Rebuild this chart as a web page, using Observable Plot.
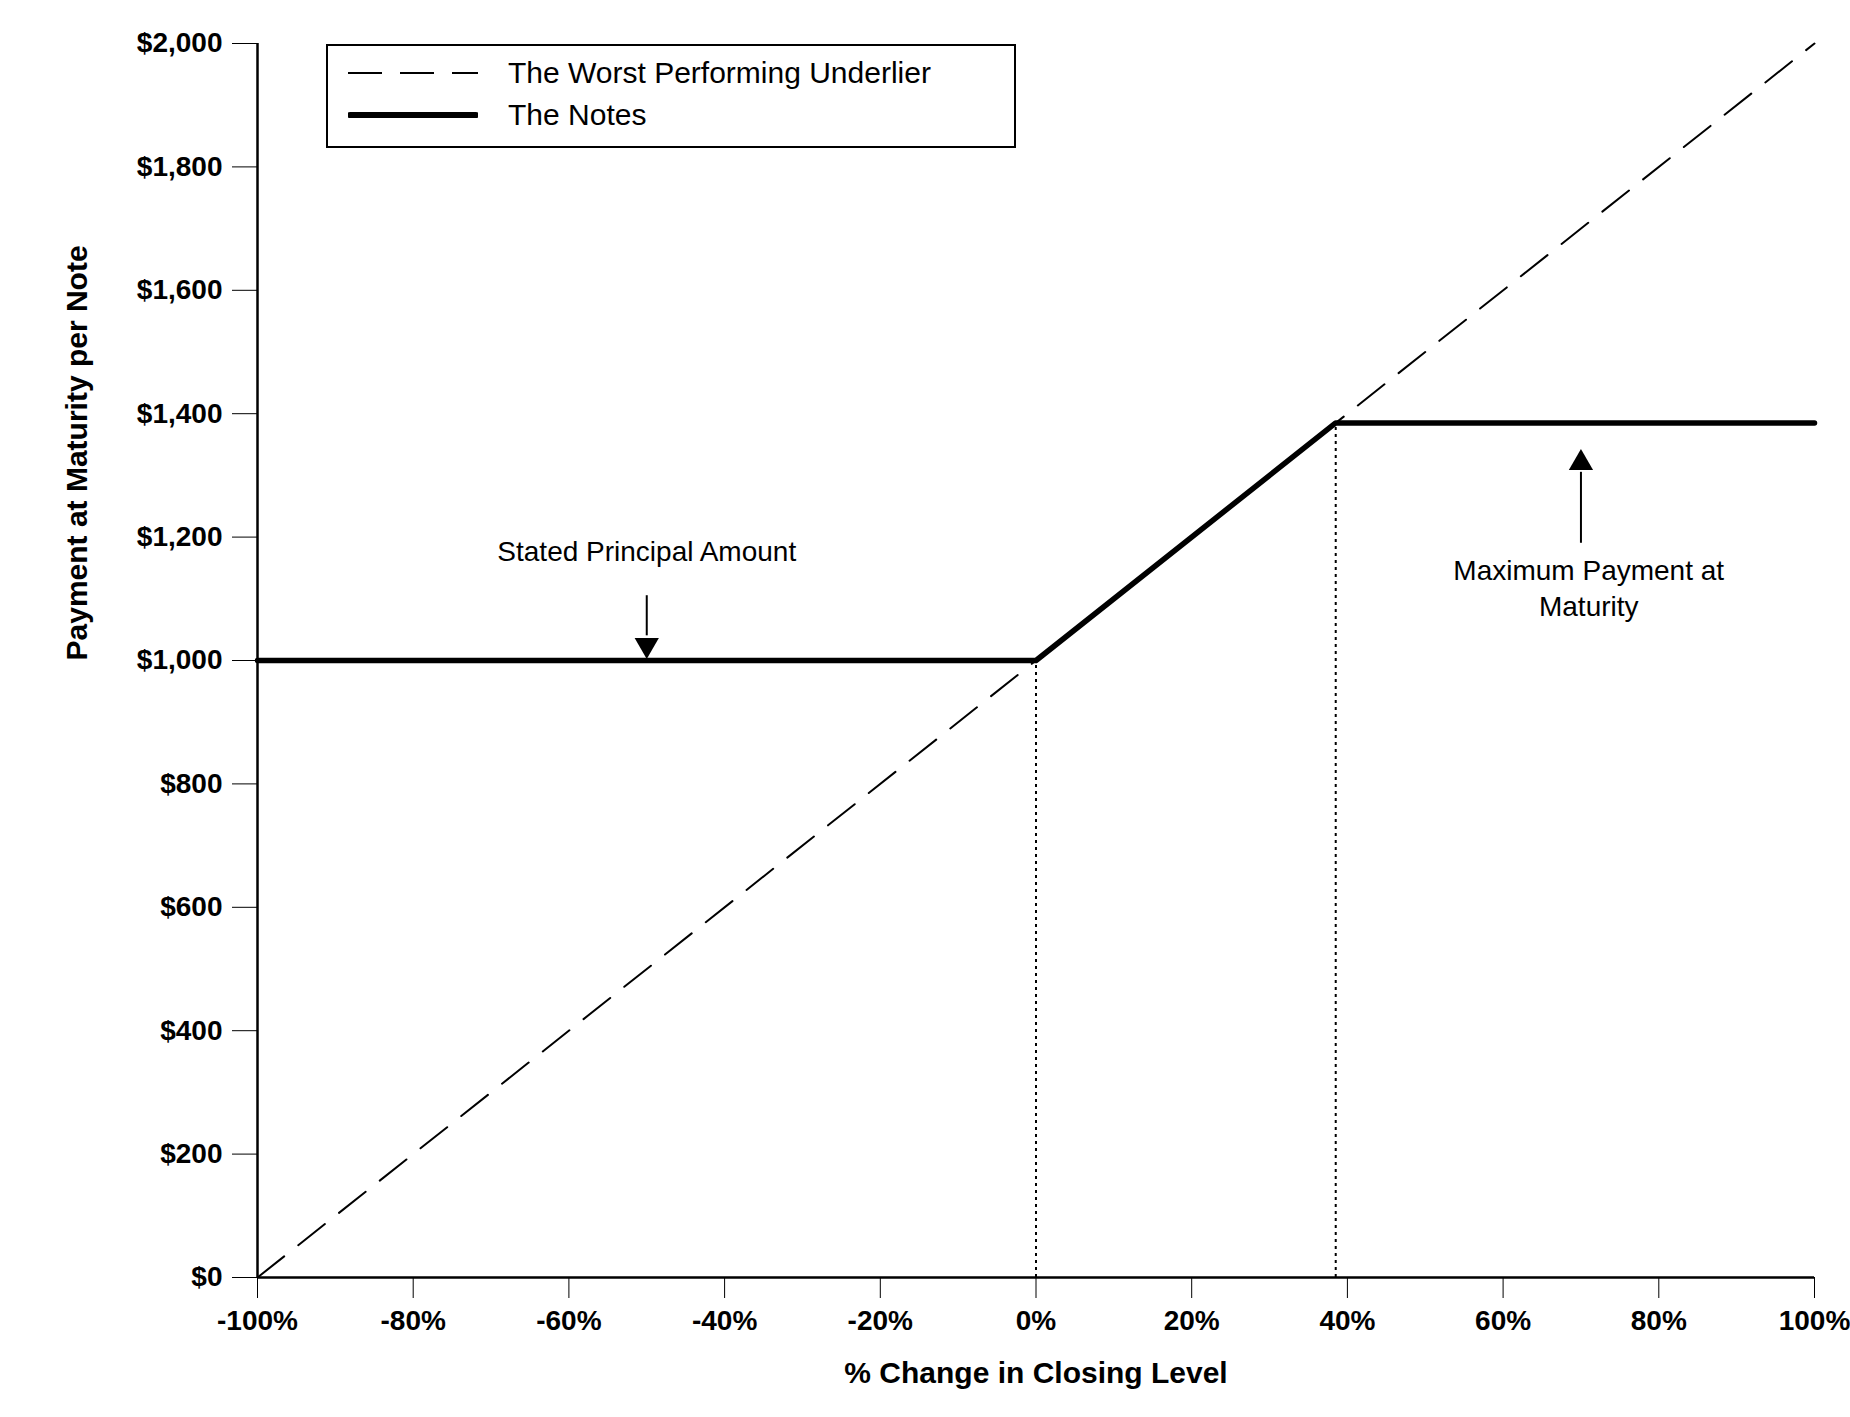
<!DOCTYPE html><html><head><meta charset="utf-8">
<script src="https://cdn.jsdelivr.net/npm/d3@7"></script>
<script src="https://cdn.jsdelivr.net/npm/@observablehq/plot@0.6"></script>
<style>body{margin:0;background:#fff;font-family:"Liberation Sans",Arial,sans-serif}#wrap{position:relative;width:1850px}
#leg{position:absolute;left:326px;top:44px;width:690px;height:104px;border:2px solid #000;box-sizing:border-box;background:#fff;font-size:30px}
#leg div{position:absolute;left:20px;display:flex;align-items:center}#leg span{margin-left:30px}</style></head><body>
<div id="wrap"><div id="chart"></div>
<div id="leg"><div style="top:10px"><svg width="130" height="20"><line x1="0" x2="130" y1="10" y2="10" stroke="#000" stroke-width="2" stroke-dasharray="34,18"/></svg><span>The Worst Performing Underlier</span></div>
<div style="top:52px"><svg width="130" height="20"><line x1="2" x2="128" y1="10" y2="10" stroke="#000" stroke-width="6" stroke-linecap="round"/></svg><span>The Notes</span></div></div></div>
<script>
const underlierX=[-100,100], underlierY=[0,2000];
const notesX=[-100,0,38.5,100], notesY=[1000,1000,1385,1385];
const xTicks=[-100,-80,-60,-40,-20,0,20,40,60,80,100];
const yTicks=[0,200,400,600,800,1000,1200,1400,1600,1800,2000];
const dotX=[0,38.5], dotY=[1000,1385];
const under=underlierX.map((x,i)=>({x,y:underlierY[i]}));
const notes=notesX.map((x,i)=>({x,y:notesY[i]}));
const drops=dotX.map((x,i)=>({x,y:dotY[i]}));
const fmt=d3.format(",");
const chart=Plot.plot({width:1850,height:1417,marginLeft:257,marginRight:36,marginTop:43,marginBottom:140,
 style:{fontFamily:"Liberation Sans, Arial, sans-serif",fontSize:"26px",color:"#000",background:"#fff"},
 x:{domain:[-100,100]},
 y:{domain:[0,2000]},
 marks:[
  Plot.axisX({ticks:xTicks,tickFormat:d=>d+"%",tickSize:21,tickPadding:12,fontSize:28,fontWeight:"bold",label:null}),
  Plot.axisY({ticks:yTicks,tickFormat:d=>"$"+fmt(d),tickSize:25,tickPadding:10,fontSize:28,fontWeight:"bold",label:null}),
  Plot.text(["% Change in Closing Level"],{frameAnchor:"bottom",dy:105,fontSize:30,fontWeight:"bold"}),
  Plot.text(["Payment at Maturity per Note"],{frameAnchor:"left",dx:-180,rotate:-90,fontSize:30,fontWeight:"bold"}),
  Plot.ruleY([0],{strokeWidth:2.5}),Plot.ruleX([-100],{strokeWidth:2.5}),
  Plot.line(under,{x:"x",y:"y",strokeWidth:2,strokeDasharray:"34,18"}),
  Plot.ruleX(drops,{x:"x",y1:0,y2:"y",strokeWidth:2,strokeDasharray:"3,4"}),
  Plot.line(notes,{x:"x",y:"y",strokeWidth:5.5}),
  Plot.text(["Stated Principal Amount"],{x:-50,y:1175,fontSize:28}),
  Plot.ruleX([-50],{y1:1105,y2:1040,strokeWidth:2}),
  Plot.dot([-50],{x:d=>d,y:1025,symbol:"triangle",r:9,fill:"#000",rotate:180}),
  Plot.text(["Maximum Payment at\nMaturity"],{x:71,y:1120,fontSize:28,lineHeight:1.3}),
  Plot.ruleX([70],{y1:1190,y2:1305,strokeWidth:2}),
  Plot.dot([70],{x:d=>d,y:1320,symbol:"triangle",r:9,fill:"#000"})
 ]});
document.getElementById("chart").append(chart);
</script></body></html>
